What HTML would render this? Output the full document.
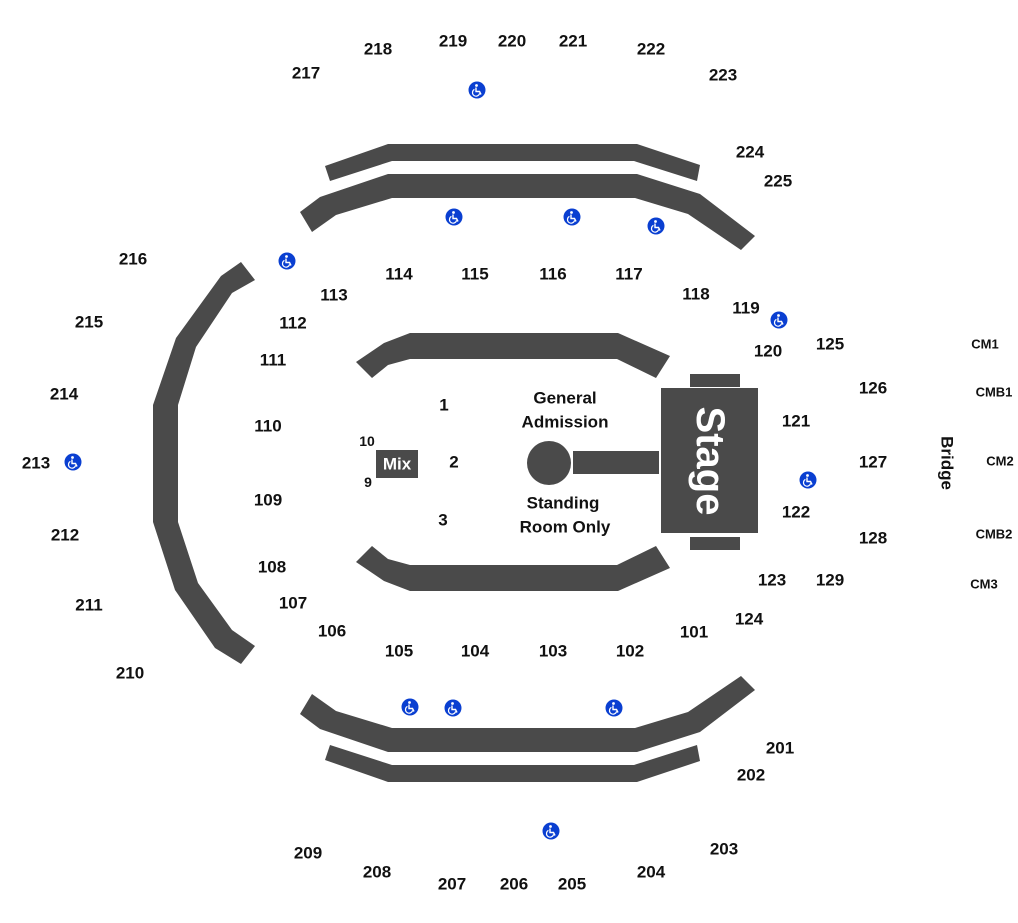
<!DOCTYPE html>
<html><head><meta charset="utf-8"><style>
html,body{margin:0;padding:0;background:#fff;}
svg{display:block;}
text{font-family:"Liberation Sans",Arial,sans-serif;font-weight:bold;fill:#111;text-anchor:middle;dominant-baseline:central;}
.s{font-size:17px;}
.c{font-size:13px;}
</style></head><body>
<svg width="1018" height="923" viewBox="0 0 1018 923" xmlns="http://www.w3.org/2000/svg">
<defs>
<g id="wc"><circle r="8.5" fill="#0a3fd1"/><circle cx="-0.5" cy="-4.5" r="1.4" fill="#fff"/><path d="M-1,-2.5 L-1,1.5 L2.5,1.5 L4,4.5" stroke="#fff" stroke-width="1.4" fill="none"/><path d="M-2.6,-0.6 A3.6,3.6 0 1 0 2.6,3.4" stroke="#fff" stroke-width="1.2" fill="none"/></g>
</defs>
<g fill="#4a4a4a">
<!-- top thin -->
<polygon points="325,166 388,144 637,144 700,165 697,181 634,161 392,161 330,181"/>
<!-- top thick -->
<polygon points="300,212 320,197 388,174 637,174 700,194 755,236 741,250 688,214 635,198 392,198 336,215 312,232"/>
<!-- bottom thick -->
<polygon points="300,714 320,729 388,752 637,752 700,732 755,690 741,676 688,712 635,728 392,728 336,711 312,694"/>
<!-- bottom thin -->
<polygon points="325,760 388,782 637,782 700,761 697,745 634,765 392,765 330,745"/>
<!-- left arc -->
<polygon points="241,262 221,276 176,338 153,405 153,522 175,590 215,648 241,664 255,646 232,630 198,583 178,522 178,405 196,347 232,293 255,280"/>
<!-- floor bars -->
<polygon points="356,362 384,343 410,333 618,333 670,356 656,378 617,359 410,359 388,365 372,378"/>
<polygon points="356,562 384,581 410,591 618,591 670,568 656,546 617,565 410,565 388,559 372,546"/>
<!-- stage -->
<rect x="661" y="388" width="97" height="145"/>
<rect x="690" y="374" width="50" height="13"/>
<rect x="690" y="537" width="50" height="13"/>
<circle cx="549" cy="463" r="22"/>
<rect x="573" y="451" width="86" height="23"/>
<rect x="376" y="450" width="42" height="28"/>
</g>
<text x="397" y="464" fill="#fff" style="fill:#fff;font-size:17px">Mix</text>
<text transform="translate(710,461) rotate(90)" style="fill:#fff;font-size:40px">Stage</text>
<text transform="translate(947,463) rotate(90)" class="s">Bridge</text>
<g class="s">
<text x="565" y="398">General</text><text x="565" y="422">Admission</text>
<text x="563" y="503">Standing</text><text x="565" y="527">Room Only</text>
<text x="444" y="405">1</text><text x="454" y="462">2</text><text x="443" y="520">3</text>
</g>
<text x="367" y="441" style="font-size:14px">10</text><text x="368" y="482" style="font-size:14px">9</text>
<g class="s">
<text x="306" y="73">217</text><text x="378" y="49">218</text><text x="453" y="41">219</text><text x="512" y="41">220</text><text x="573" y="41">221</text><text x="651" y="49">222</text><text x="723" y="75">223</text><text x="750" y="152">224</text><text x="778" y="181">225</text>
<text x="133" y="259">216</text><text x="89" y="322">215</text><text x="64" y="394">214</text><text x="36" y="463">213</text><text x="65" y="535">212</text><text x="89" y="605">211</text><text x="130" y="673">210</text>
<text x="308" y="853">209</text><text x="377" y="872">208</text><text x="452" y="884">207</text><text x="514" y="884">206</text><text x="572" y="884">205</text><text x="651" y="872">204</text><text x="724" y="849">203</text><text x="751" y="775">202</text><text x="780" y="748">201</text>
<text x="334" y="295">113</text><text x="399" y="274">114</text><text x="475" y="274">115</text><text x="553" y="274">116</text><text x="629" y="274">117</text><text x="696" y="294">118</text><text x="746" y="308">119</text><text x="768" y="351">120</text><text x="796" y="421">121</text><text x="796" y="512">122</text><text x="772" y="580">123</text><text x="749" y="619">124</text>
<text x="830" y="344">125</text><text x="873" y="388">126</text><text x="873" y="462">127</text><text x="873" y="538">128</text><text x="830" y="580">129</text>
<text x="293" y="323">112</text><text x="273" y="360">111</text><text x="268" y="426">110</text><text x="268" y="500">109</text><text x="272" y="567">108</text><text x="293" y="603">107</text><text x="332" y="631">106</text>
<text x="399" y="651">105</text><text x="475" y="651">104</text><text x="553" y="651">103</text><text x="630" y="651">102</text><text x="694" y="632">101</text>
</g>
<g class="c">
<text x="985" y="344">CM1</text><text x="994" y="392">CMB1</text><text x="1000" y="461">CM2</text><text x="994" y="534">CMB2</text><text x="984" y="584">CM3</text>
</g>
<use href="#wc" x="477" y="90"/><use href="#wc" x="454" y="217"/><use href="#wc" x="572" y="217"/><use href="#wc" x="656" y="226"/><use href="#wc" x="287" y="261"/><use href="#wc" x="779" y="320"/><use href="#wc" x="73" y="462"/><use href="#wc" x="808" y="480"/><use href="#wc" x="410" y="707"/><use href="#wc" x="453" y="708"/><use href="#wc" x="614" y="708"/><use href="#wc" x="551" y="831"/>
</svg>
</body></html>
